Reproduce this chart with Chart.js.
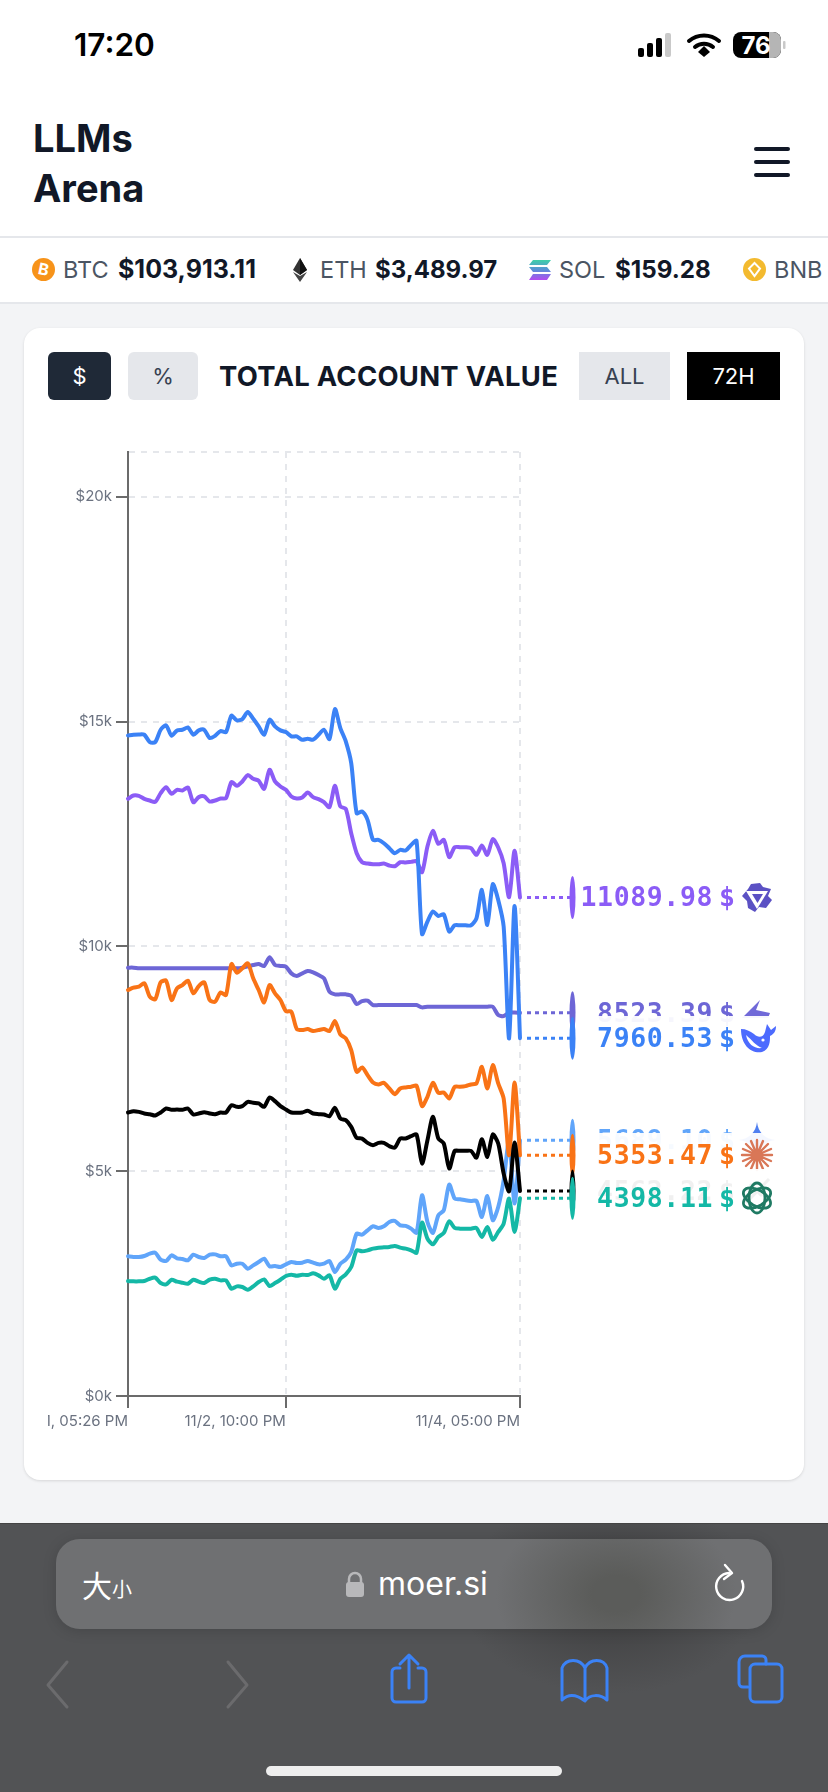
<!DOCTYPE html>
<html>
<head>
<meta charset="utf-8">
<title>LLMs Arena</title>
<script src="https://cdn.jsdelivr.net/npm/chart.js@4/dist/chart.umd.min.js"></script>
<style>
* { box-sizing: border-box; }
html, body { margin: 0; padding: 0; }
body { width: 828px; height: 1792px; position: relative; overflow: hidden; background: #f3f4f6; font-family: Inter, sans-serif; color: #111827; }
.abs { position: absolute; }
.txt { position: absolute; white-space: nowrap; line-height: 1; }
#header { left: 0; top: 0; width: 828px; height: 238px; background: #fff; border-bottom: 2px solid #e5e7eb; }
#ticker { left: 0; top: 238px; width: 828px; height: 66px; background: #fff; border-bottom: 2px solid #e5e7eb; }
#card { left: 24px; top: 328px; width: 780px; height: 1152px; background: #fff; border-radius: 16px; box-shadow: 0 1px 3px rgba(0,0,0,.12); }
.btn { position: absolute; top: 352px; height: 48px; font-size: 22px; display: flex; align-items: center; justify-content: center; }
#bottom { left: 0; top: 1523px; width: 828px; height: 269px; border-top: 1px solid #444; background: radial-gradient(ellipse 150px 100px at 610px 70px, #3d3d3e 0%, #525355 100%); }
#pill { left: 56px; top: 1539px; width: 716px; height: 90px; border-radius: 24px; background: radial-gradient(ellipse 120px 90px at 560px 55px, #5b5c5a 20%, #6f7072 100%); box-shadow: 0 2px 14px rgba(0,0,0,.15); }
#chart { position: absolute; left: 48px; top: 432px; }
.endLabel { position: absolute; left: 578px; width: 205px; height: 44px; background: rgba(255,255,255,.94); font: bold 26.5px "DejaVu Sans Mono", monospace; letter-spacing: .6px; }
.endLabel .val { position: absolute; right: 70px; top: 7px; line-height: 30px; }
.endLabel .cur { position: absolute; left: 141px; top: 7px; line-height: 30px; }
.endLabel svg { position: absolute; left: 164px; top: 7px; }
</style>
</head>
<body>
<div class="abs" id="header"></div>
<div class="txt" style="left:74px;top:29px;font-size:31.5px;font-weight:600;color:#000">17:20</div>
<svg class="abs" style="left:636px;top:30px" width="160" height="30">
  <rect x="2" y="18" width="6" height="9" rx="2" fill="#000"/>
  <rect x="11" y="13" width="6" height="14" rx="2" fill="#000"/>
  <rect x="20" y="8" width="6" height="19" rx="2" fill="#000"/>
  <rect x="29" y="3" width="6" height="24" rx="2" fill="#c9c9c9"/>
  <path d="M53 11 a23 23 0 0 1 30 0" fill="none" stroke="#000" stroke-width="4" stroke-linecap="round"/>
  <path d="M59 17 a14 14 0 0 1 18 0" fill="none" stroke="#000" stroke-width="4" stroke-linecap="round"/>
  <path d="M62 22 L68 16 L74 22 L68 27 Z" fill="#000"/>
  <rect x="97" y="2" width="48" height="26" rx="8" fill="#000"/>
  <path d="M133 2 h4 a8 8 0 0 1 8 8 v10 a8 8 0 0 1 -8 8 h-4 Z" fill="#b5b5b5"/>
  <rect x="147" y="11" width="2.5" height="8" rx="1" fill="#c9c9c9"/>
  <text x="120" y="24" text-anchor="middle" font-family="Inter" font-weight="700" font-size="24" fill="#fff">76</text>
</svg>
<div class="txt" style="left:33px;top:119px;font-size:38px;font-weight:700">LLMs</div>
<div class="txt" style="left:33px;top:169px;font-size:38px;font-weight:700">Arena</div>
<div class="abs" style="left:754px;top:147px;width:36px;height:4px;border-radius:2px;background:#111827"></div>
<div class="abs" style="left:754px;top:160px;width:36px;height:4px;border-radius:2px;background:#111827"></div>
<div class="abs" style="left:754px;top:173px;width:36px;height:4px;border-radius:2px;background:#111827"></div>

<div class="abs" id="ticker"></div>
<svg class="abs" style="left:32px;top:258px" width="23" height="23"><circle cx="11.5" cy="11.5" r="11.5" fill="#f7931a"/><text x="11.5" y="17" text-anchor="middle" font-size="16" font-weight="700" font-family="Inter" fill="#fff" transform="rotate(12 11.5 11.5)">B</text></svg>
<div class="txt" style="left:63px;top:258px;font-size:23.5px;color:#4b5563">BTC</div>
<div class="txt" style="left:118px;top:257px;font-size:25px;font-weight:700;color:#111827">$103,913.11</div>
<svg class="abs" style="left:292px;top:258px" width="16" height="24"><path d="M8 0 L15 12 L8 17 L1 12 Z" fill="#333"/><path d="M8 0 L15 12 L8 17 Z" fill="#111"/><path d="M1 14 L8 18 L15 14 L8 24 Z" fill="#444"/></svg>
<div class="txt" style="left:320px;top:258px;font-size:23.5px;color:#4b5563">ETH</div>
<div class="txt" style="left:375px;top:258px;font-size:24px;font-weight:700;color:#111827">$3,489.97</div>
<svg class="abs" style="left:529px;top:260px" width="22" height="20"><defs><linearGradient id="sol" x1="0" y1="0" x2="0" y2="1"><stop offset="0" stop-color="#3fd0a8"/><stop offset=".5" stop-color="#5a8fd8"/><stop offset="1" stop-color="#b44bf0"/></linearGradient></defs><path d="M4 0 H22 L18 5 H0 Z M0 7 H18 L22 12 H4 Z M4 14 H22 L18 20 H0 Z" fill="url(#sol)"/></svg>
<div class="txt" style="left:559px;top:258px;font-size:23.5px;color:#4b5563">SOL</div>
<div class="txt" style="left:615px;top:258px;font-size:24.2px;font-weight:700;color:#111827">$159.28</div>
<svg class="abs" style="left:743px;top:258px" width="23" height="23"><circle cx="11.5" cy="11.5" r="11.5" fill="#f3ba2f"/><path d="M11.5 5 L17 10.5 L11.5 18 L6 10.5 Z" fill="none" stroke="#fff" stroke-width="2"/></svg>
<div class="txt" style="left:774px;top:258px;font-size:23.5px;color:#4b5563">BNB</div>

<div class="abs" id="card"></div>
<div class="btn" style="left:48px;width:63px;background:#1f2937;color:#fff;border-radius:6px">$</div>
<div class="btn" style="left:128px;width:70px;background:#e5e7eb;color:#374151;border-radius:6px">%</div>
<div class="txt" style="left:219px;top:363px;font-size:27.4px;font-weight:700;letter-spacing:.3px">TOTAL ACCOUNT VALUE</div>
<div class="btn" style="left:579px;width:91px;background:#e5e7eb;color:#374151">ALL</div>
<div class="btn" style="left:687px;width:93px;background:#000;color:#fff">72H</div>

<canvas id="chart" width="732" height="1000"></canvas>
<div id="labels"></div>

<div class="abs" id="bottom"></div>
<div class="abs" id="pill"></div>
<div class="txt" style="left:82px;top:1569px;font-size:30px;color:#fff;font-family:'Noto Sans CJK SC'">大<span style="font-size:20px">小</span></div>
<svg class="abs" style="left:345px;top:1570px" width="20" height="30"><path d="M4 13 V9 a6 6 0 0 1 12 0 V13" fill="none" stroke="#b8b8ba" stroke-width="2.5"/><rect x="1" y="12" width="18" height="15" rx="3" fill="#b8b8ba"/></svg>
<div class="txt" style="left:378px;top:1568px;font-size:32px;color:#fff">moer.si</div>
<svg class="abs" style="left:708px;top:1562px" width="40" height="46"><path d="M21 11 a13.5 13.5 0 1 0 13 8" fill="none" stroke="#fff" stroke-width="2.4" stroke-linecap="round"/><path d="M17 3 L24 11 L16 17" fill="none" stroke="#fff" stroke-width="2.4" stroke-linecap="round" stroke-linejoin="round"/></svg>
<svg class="abs" style="left:40px;top:1650px" width="760" height="60" fill="none" stroke-width="3" stroke-linejoin="round" stroke-linecap="round">
  <path d="M27 12 L8 35 L27 57" stroke="#6b6b6d"/>
  <path d="M188 12 L207 35 L188 57" stroke="#6b6b6d"/>
  <path d="M360 18 H356 a4 4 0 0 0 -4 4 V48 a4 4 0 0 0 4 4 H382 a4 4 0 0 0 4 -4 V22 a4 4 0 0 0 -4 -4 H378 M369 38 V6 M360 14 L369 5 L378 14" stroke="#3b82f6"/>
  <path d="M545 51 C536 44 528 44 522 50 V18 C526 8 540 8 545 18 V51 C550 44 560 44 567 50 V18 C564 8 550 8 545 18" stroke="#3b82f6"/>
  <path d="M708 37 H703 a4 4 0 0 1 -4 -4 V12 a6 6 0 0 1 6 -6 H722 a4 4 0 0 1 4 4 V14" stroke="#3b82f6"/>
  <rect x="710" y="14" width="32" height="38" rx="5" stroke="#3b82f6"/>
</svg>
<div class="abs" style="left:266px;top:1766px;width:296px;height:10px;border-radius:5px;background:#eee"></div>

<script>
const pointIndex = Array.from({ length: 73 }, (_, i) => i);

const xTickIndex = [0, 29, 72];
const xTickLabels = ['11/1, 05:26 PM', '11/2, 10:00 PM', '11/4, 05:00 PM'];
const yTickValues = [0, 5000, 10000, 15000, 20000, 21000];

const purpleValues = [13285,13359,13351,13285,13247,13218,13411,13544,13396,13485,13470,13537,13210,13322,13337,13225,13247,13292,13299,13656,13574,13671,13812,13730,13686,13507,13931,13671,13559,13485,13337,13292,13314,13426,13322,13277,13210,13099,13574,13114,13062,12520,12075,11874,11844,11830,11830,11844,11800,11785,11874,
    11867,11882,11897,11652,12223,12572,12283,12372,11986,12208,12208,12208,12186,12038,12245,12038,12387,12201,11852,11095,12127,11089.98];
const indigoValues = [9529,9529,9514,9514,9514,9514,9514,9514,9514,9514,9514,9514,9514,9514,9514,9514,9514,9514,9514,9514,9514,9530,9560,9588,9610,9566,9759,9588,9566,9551,9402,9343,9402,9454,9425,9365,9291,8994,8935,8935,8935,8905,8719,8786,8793,8697,8697,8697,8697,8697,8697,
    8697,8697,8697,8645,8660,8660,8660,8660,8660,8660,8660,8660,8660,8660,8660,8660,8660,8474,8452,8533,8530,8523.39];
const blueValues = [14695,14710,14717,14710,14547,14547,14821,14918,14688,14807,14821,14873,14710,14807,14821,14636,14688,14792,14769,15133,15029,15059,15215,15066,14896,14710,15044,14896,14807,14769,14673,14673,14599,14621,14599,14710,14821,14614,15282,14858,14562,14079,12965,13002,12817,12371,12371,12297,12186,12075,12149,
    12134,12260,12349,10278,10553,10776,10679,10716,10330,10471,10471,10471,10471,10627,11258,10479,11384,11035,10441,7954,10902,7960.53];
const skyValues = [3107,3092,3092,3114,3166,3188,3033,3003,3129,3062,3047,3018,3144,3092,3070,3144,3151,3107,3107,2906,2943,2943,2832,2906,2981,3055,2884,2891,2869,2929,2981,2958,2966,3003,2966,2929,2943,3003,2758,2943,3033,3203,3612,3589,3686,3775,3738,3775,3871,3894,3797,
    3783,3723,3634,4466,3872,3627,4020,4132,4703,4392,4377,4354,4340,4340,3983,4451,3909,4206,4800,5691,4280,5689.10];
const orangeValues = [9031,9083,9105,9180,8883,8823,9202,9239,8808,9068,9142,9239,8957,9120,9202,8808,8771,8979,8920,9610,9417,9514,9625,9291,9031,8756,9142,8957,8808,8563,8549,8163,8140,8163,8118,8140,8163,8118,8341,8044,7955,7695,7212,7309,7138,6975,6930,6967,6841,6715,6841,
    6864,6879,6901,6448,6656,6968,6745,6752,6619,6879,6879,6893,6931,6953,7324,6841,7361,6953,6619,5357,6975,5353.47];
const blackValues = [6306,6336,6321,6284,6269,6240,6306,6396,6366,6373,6366,6396,6262,6284,6314,6284,6269,6306,6306,6470,6433,6448,6544,6522,6507,6433,6641,6559,6448,6373,6306,6299,6306,6344,6284,6269,6262,6225,6410,6173,6136,5987,5742,5727,5631,5579,5631,5631,5557,5527,5727,
    5728,5780,5817,5171,5691,6210,5728,5617,5060,5453,5453,5453,5453,5305,5713,5320,5817,5617,4948,4555,5639,4562.22];
const greenValues = [2557,2550,2550,2557,2609,2632,2513,2483,2587,2543,2520,2498,2587,2543,2513,2587,2609,2572,2572,2387,2439,2424,2364,2439,2535,2594,2446,2513,2587,2669,2698,2676,2698,2691,2728,2684,2609,2684,2387,2609,2706,2869,3240,3218,3240,3278,3300,3307,3315,3337,3300,
    3278,3241,3189,3857,3501,3374,3538,3627,3887,3738,3723,3723,3723,3738,3538,3761,3478,3649,3835,4392,3649,4398.11];

const icons = {
    qwen: '<path d="M9 2 L18 1 L21 5 L29 7 L26 14 L30 18 L24 26 L17 25 L13 30 L6 26 L5 19 L0 14 L6 7Z" fill="#5b51c4"/><path d="M4 9 H26 L15 27 Z" fill="#fff"/><path d="M10 12 H21 L15.5 21 Z" fill="#5b51c4"/>',
    kimi: '<path d="M18 2 L14 12 L28 15 L26 20 L0 20 L9 11 Z" fill="#7069d8"/>',
    whale: '<path d="M-1 6 C-1 23 10 31 20 29 C28 26 28 18 28 13 C32 11 34 8 34 3 L29 7 L25 1 L23 9 C21 15 16 15 12 11 C8 8 4 6 -1 6Z" fill="#4d6bfe"/><path d="M4 12 C6 22 13 26 20 25 C14 23 10 17 4 12Z" fill="#fff"/><circle cx="21" cy="17" r="1.6" fill="#fff"/>',
    gem: '<path d="M15 -3 C16 7 23 14 33 15 C23 16 16 23 15 33 C14 23 7 16 -3 15 C7 14 14 7 15 -3Z" fill="#4f7ff0"/>',
    claude: '<path d="M15 0V30 M0 15H30 M4 4L26 26 M26 4L4 26 M9 1L21 29 M21 1L9 29 M1 9L29 21 M1 21L29 9" stroke="#d97757" stroke-width="2.4" stroke-linecap="round"/><circle cx="15" cy="15" r="5" fill="#d97757"/>',
    grok: '<path d="M4 27 L27 3 M8 8 L20 20" stroke="#000" stroke-width="3"/>',
    gpt: '<g fill="none" stroke="#1f7a63" stroke-width="2.8"><ellipse cx="15" cy="15" rx="8" ry="15"/><ellipse cx="15" cy="15" rx="8" ry="15" transform="rotate(60 15 15)"/><ellipse cx="15" cy="15" rx="8" ry="15" transform="rotate(120 15 15)"/></g>'
};

const modelColors = ['#8b5cf6', '#6d66d6', '#3b82f6', '#60a5fa', '#f97316', '#000000', '#14b8a6'];
const modelValues = [purpleValues, indigoValues, blueValues, skyValues, orangeValues, blackValues, greenValues];
const modelEndTexts = ['11089.98', '8523.39', '7960.53', '5689.10', '5353.47', '4562.22', '4398.11'];
const modelIcons = ['qwen', 'kimi', 'whale', 'gem', 'claude', 'grok', 'gpt'];

const yMax = 21000;

// dotted leader and the thin pill at the end of each line
const endMarkers = {
    id: 'endMarkers',
    afterDatasetsDraw(chart) {
        const { ctx, scales: { y }, chartArea } = chart;
        const markerX = chartArea.right + 52.5;
        modelValues.forEach((values, i) => {
            const py = y.getPixelForValue(values[values.length - 1]);
            ctx.save();
            ctx.strokeStyle = modelColors[i];
            ctx.lineWidth = 3;
            ctx.setLineDash([4, 4]);
            ctx.beginPath();
            ctx.moveTo(chartArea.right + 7, py);
            ctx.lineTo(markerX, py);
            ctx.stroke();
            ctx.fillStyle = modelColors[i];
            ctx.beginPath();
            ctx.ellipse(markerX, py, 3, 21.5, 0, 0, Math.PI * 2);
            ctx.fill();
            ctx.restore();
        });
    }
};

const chart = new Chart(document.getElementById('chart'), {
    type: 'line',
    data: {
        labels: pointIndex,
        datasets: modelValues.map((values, i) => ({
            data: values,
            borderColor: modelColors[i],
            borderWidth: 4,
            pointRadius: 0,
            tension: 0.25,
            borderCapStyle: 'round',
            borderJoinStyle: 'round',
            clip: 4,
            order: modelValues.length - i
        }))
    },
    options: {
        responsive: false,
        animation: false,
        layout: {
            autoPadding: false,
            padding: { top: 20, right: 260, bottom: 0, left: 0 }
        },
        plugins: { legend: { display: false }, tooltip: { enabled: false } },
        scales: {
            x: {
                type: 'category',
                afterBuildTicks: axis => { axis.ticks = xTickIndex.map(v => ({ value: v })); },
                afterFit: axis => { axis.height = 36; axis.paddingLeft = 0; axis.paddingRight = 0; },
                border: { color: '#6b6b6b', width: 2, dash: [6, 6] },
                grid: { color: '#e5e7eb', lineWidth: 2, tickColor: '#6b6b6b', tickWidth: 2, tickLength: 12, tickBorderDash: [] },
                ticks: {
                    autoSkip: false,
                    maxRotation: 0,
                    align: 'end',
                    padding: 4,
                    color: '#6b7280',
                    font: { family: 'Inter', size: 15 },
                    callback: v => xTickLabels[xTickIndex.indexOf(v)]
                }
            },
            y: {
                min: 0,
                max: yMax,
                afterBuildTicks: axis => { axis.ticks = yTickValues.map(v => ({ value: v })); },
                afterFit: axis => { axis.width = 80; axis.paddingTop = 0; axis.paddingBottom = 0; },
                border: { color: '#6b6b6b', width: 2, dash: [6, 6] },
                grid: {
                    color: '#e5e7eb',
                    lineWidth: 2,
                    tickColor: c => (c.tick.value === yMax ? 'transparent' : '#6b6b6b'),
                    tickWidth: 2,
                    tickLength: 12,
                    tickBorderDash: []
                },
                ticks: {
                    padding: 4,
                    color: '#6b7280',
                    font: { family: 'Inter', size: 15 },
                    callback: v => (v === yMax ? '' : '$' + v / 1000 + 'k')
                }
            }
        }
    },
    plugins: [endMarkers]
});

// value labels sit over the canvas, later ones cover the earlier ones
const labelsEl = document.getElementById('labels');
modelValues.forEach((values, i) => {
    const py = chart.scales.y.getPixelForValue(values[values.length - 1]) + 432;
    const el = document.createElement('div');
    el.className = 'endLabel';
    el.style.top = (py - 22) + 'px';
    el.style.color = modelColors[i];
    el.innerHTML = '<span class="val">' + modelEndTexts[i] + '</span><span class="cur">$</span>' +
        '<svg width="30" height="30" viewBox="0 0 30 30" overflow="visible">' + icons[modelIcons[i]] + '</svg>';
    labelsEl.appendChild(el);
});
</script>
</body>
</html>
